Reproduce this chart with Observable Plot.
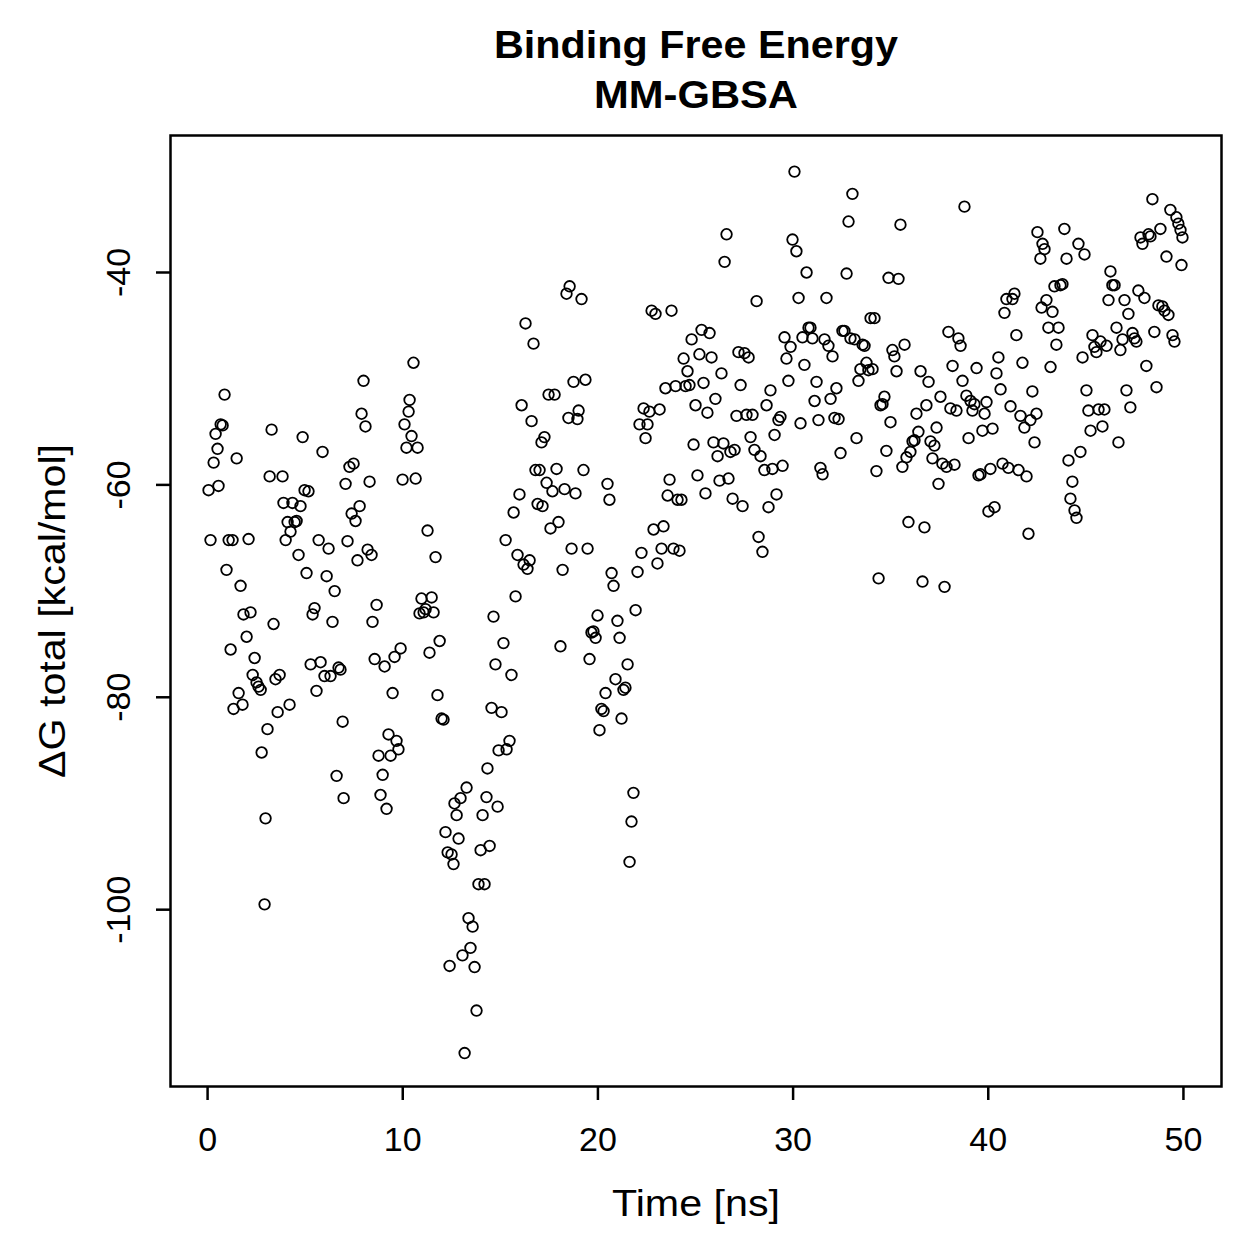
<!DOCTYPE html>
<html><head><meta charset="utf-8">
<script src="https://cdn.jsdelivr.net/npm/d3@7"></script>
<script src="https://cdn.jsdelivr.net/npm/@observablehq/plot@0.6"></script>
<style>body{margin:0;background:#fff}</style>
</head><body><div id="chart"></div>
<script>
const titleLines = ["Binding Free Energy", "MM-GBSA"];
const xLabel = "Time [ns]";
const yLabel = "ΔG total [kcal/mol]";
const xTicks = [0, 10, 20, 30, 40, 50];
const yTicks = [-100, -80, -60, -40];

const time = [
0.05,0.15,0.31,0.41,0.51,0.56,0.67,0.77,0.87,0.97,1.08,1.18,1.28,1.33,1.49,1.59,1.69,1.79,1.84,2.00,
2.10,2.20,2.31,2.41,2.51,2.61,2.72,2.77,2.92,2.97,3.07,3.18,3.28,3.38,3.48,3.59,3.69,3.84,3.89,4.00,
4.10,4.20,4.25,4.35,4.46,4.56,4.66,4.76,4.87,4.97,5.07,5.17,5.28,5.38,5.48,5.58,5.69,5.79,5.89,5.99,
6.10,6.20,6.30,6.40,6.51,6.61,6.71,6.81,6.92,6.97,7.07,7.17,7.27,7.38,7.48,7.58,7.68,7.79,7.89,7.99,
8.09,8.20,8.30,8.40,8.45,8.56,8.66,8.76,8.86,8.97,9.07,9.17,9.27,9.38,9.48,9.58,9.68,9.78,9.89,9.99,
10.09,10.19,10.30,10.35,10.45,10.55,10.66,10.76,10.86,10.96,11.07,11.17,11.27,11.37,11.48,11.58,11.68,11.78,11.89,11.99,
12.09,12.19,12.30,12.40,12.50,12.60,12.65,12.76,12.86,12.96,13.06,13.17,13.27,13.37,13.47,13.58,13.68,13.78,13.88,13.99,
14.09,14.19,14.29,14.34,14.45,14.55,14.65,14.75,14.86,14.91,15.06,15.16,15.27,15.32,15.47,15.57,15.68,15.78,15.88,15.98,
16.09,16.19,16.29,16.39,16.50,16.60,16.70,16.80,16.91,17.01,17.11,17.16,17.26,17.37,17.47,17.57,17.67,17.78,17.88,17.98,
18.08,18.19,18.29,18.39,18.49,18.55,18.65,18.75,18.85,18.95,19.01,19.16,19.26,19.36,19.47,19.57,19.67,19.77,19.88,19.98,
20.08,20.18,20.29,20.39,20.49,20.59,20.70,20.80,20.90,21.00,21.11,21.21,21.31,21.41,21.52,21.62,21.72,21.82,21.93,22.03,
22.13,22.23,22.34,22.44,22.54,22.64,22.75,22.85,22.95,23.05,23.16,23.26,23.36,23.46,23.57,23.67,23.77,23.87,23.98,24.08,
24.18,24.28,24.39,24.49,24.59,24.69,24.80,24.90,25.00,25.10,25.20,25.31,25.41,25.51,25.61,25.72,25.82,25.92,26.02,26.13,
26.23,26.33,26.43,26.49,26.59,26.69,26.79,26.90,27.00,27.10,27.20,27.31,27.41,27.51,27.61,27.72,27.82,27.92,28.02,28.13,
28.23,28.33,28.43,28.53,28.64,28.74,28.84,28.94,29.05,29.15,29.25,29.35,29.46,29.56,29.66,29.76,29.87,29.97,30.07,30.17,
30.28,30.38,30.48,30.58,30.69,30.79,30.89,30.99,31.10,31.20,31.30,31.40,31.51,31.61,31.71,31.81,31.92,32.02,32.12,32.22,
32.33,32.43,32.53,32.63,32.74,32.84,32.94,33.04,33.15,33.25,33.35,33.45,33.56,33.66,33.76,33.86,33.97,34.07,34.17,34.27,
34.38,34.48,34.58,34.68,34.78,34.89,34.99,35.09,35.19,35.30,35.40,35.50,35.60,35.71,35.81,35.91,36.01,36.12,36.22,36.32,
36.42,36.53,36.63,36.73,36.83,36.94,37.04,37.14,37.24,37.35,37.45,37.55,37.65,37.76,37.86,37.96,38.06,38.17,38.27,38.37,
38.47,38.58,38.68,38.78,38.88,38.99,39.09,39.19,39.29,39.40,39.50,39.60,39.70,39.81,39.91,40.01,40.11,40.22,40.32,40.42,
40.52,40.63,40.73,40.83,40.93,41.03,41.14,41.24,41.34,41.44,41.55,41.65,41.75,41.85,41.96,42.06,42.16,42.26,42.37,42.47,
42.52,42.67,42.73,42.78,42.88,42.98,43.08,43.19,43.29,43.39,43.49,43.60,43.70,43.80,43.90,44.01,44.11,44.21,44.31,44.42,
44.52,44.62,44.72,44.83,44.93,45.03,45.13,45.24,45.34,45.44,45.54,45.65,45.75,45.85,45.95,46.06,46.16,46.26,46.36,46.47,
46.57,46.67,46.77,46.88,46.98,47.08,47.18,47.28,47.39,47.49,47.59,47.69,47.80,47.90,48.00,48.10,48.21,48.31,48.41,48.51,
48.62,48.72,48.82,48.92,49.03,49.13,49.23,49.33,49.44,49.54,49.64,49.74,49.85,49.95,49.90
];

const dG = [
-60.5,-65.2,-57.9,-55.2,-56.6,-60.1,-54.3,-54.4,-51.5,-68.0,-65.2,-75.5,-65.2,-81.1,-57.5,-79.6,-69.5,-80.7,-72.2,-74.3,
-65.1,-72.0,-77.9,-76.3,-78.6,-79.0,-79.3,-85.2,-99.5,-91.4,-83.0,-59.2,-54.8,-73.1,-78.3,-81.4,-77.9,-59.2,-61.7,-65.2,
-63.5,-80.7,-64.4,-61.7,-63.5,-63.4,-66.6,-62.0,-55.5,-60.5,-68.3,-60.6,-76.9,-72.2,-71.6,-79.4,-65.2,-76.7,-56.9,-78.0,
-68.6,-66.0,-78.0,-72.9,-70.0,-87.4,-77.2,-77.4,-82.3,-89.5,-59.9,-65.3,-58.3,-62.7,-58.0,-63.4,-67.1,-62.0,-53.3,-50.2,
-54.5,-66.1,-59.7,-66.6,-72.9,-76.4,-71.3,-85.5,-89.2,-87.3,-77.1,-90.5,-83.5,-85.5,-79.6,-76.2,-84.1,-84.9,-75.4,-59.5,
-54.3,-56.5,-53.1,-52.0,-55.4,-48.5,-59.4,-56.5,-72.1,-70.7,-72.0,-71.7,-64.3,-75.8,-70.6,-72.0,-66.8,-79.8,-74.7,-82.0,
-82.1,-92.7,-94.6,-105.3,-94.8,-95.7,-90.0,-91.1,-93.3,-89.5,-104.3,-113.5,-88.5,-100.8,-103.6,-101.6,-105.4,-109.5,-97.6,-94.4,
-91.1,-97.6,-89.4,-86.7,-94.0,-81.0,-72.4,-76.9,-90.3,-85.0,-81.4,-74.9,-65.2,-84.9,-84.1,-77.9,-62.6,-70.5,-66.6,-60.9,
-52.5,-67.5,-44.8,-67.9,-67.1,-54.0,-46.7,-58.6,-61.8,-58.6,-56.0,-62.0,-55.5,-59.8,-51.5,-64.1,-60.6,-51.5,-58.5,-63.5,
-75.2,-68.0,-60.4,-42.0,-53.7,-41.3,-66.0,-50.3,-60.8,-53.8,-53.0,-42.5,-58.6,-50.1,-66.0,-76.4,-73.9,-73.8,-74.4,-72.3,
-83.1,-81.1,-81.3,-79.6,-59.9,-61.4,-68.3,-69.5,-78.3,-72.8,-74.4,-82.0,-79.3,-79.1,-76.9,-95.5,-91.7,-89.0,-71.8,-68.2,
-54.3,-66.4,-52.8,-55.6,-54.3,-53.1,-43.6,-64.2,-43.9,-67.4,-52.9,-66.0,-63.9,-50.9,-61.0,-59.5,-43.6,-66.0,-50.7,-61.4,
-66.2,-61.4,-48.1,-50.7,-49.3,-50.6,-46.3,-56.2,-52.5,-59.1,-47.7,-45.4,-50.4,-60.8,-53.2,-45.7,-48.0,-56.0,-51.9,-57.3,
-59.6,-49.5,-56.1,-39.0,-36.4,-59.4,-56.9,-61.3,-56.7,-53.5,-47.5,-50.6,-62.0,-47.6,-53.4,-48.0,-55.5,-53.4,-56.7,-42.7,
-64.9,-57.3,-66.3,-58.6,-52.5,-62.1,-51.1,-58.5,-55.3,-60.9,-53.9,-53.6,-58.2,-46.1,-48.1,-50.2,-47.0,-36.9,-30.5,-38.0,
-42.4,-54.2,-46.1,-48.7,-40.0,-45.2,-45.2,-46.2,-52.1,-50.3,-53.9,-58.4,-59.0,-46.3,-42.4,-46.9,-51.9,-47.9,-53.7,-50.9,
-53.8,-57.0,-45.5,-45.5,-40.1,-35.2,-46.2,-32.6,-46.3,-55.6,-50.2,-49.1,-46.8,-46.9,-48.5,-49.2,-44.3,-49.1,-44.3,-58.7,
-68.8,-52.5,-52.4,-51.7,-56.8,-40.5,-54.1,-47.3,-47.9,-49.3,-40.6,-35.5,-58.3,-46.8,-57.4,-63.5,-56.9,-55.9,-55.8,-53.3,
-55.0,-49.3,-69.1,-64.0,-52.5,-50.3,-55.9,-57.5,-56.3,-54.6,-59.9,-51.7,-58.0,-69.6,-58.3,-45.6,-52.8,-48.8,-58.1,-53.0,
-46.2,-46.9,-50.2,-33.8,-51.6,-55.6,-52.1,-53.0,-52.4,-49.0,-59.1,-59.0,-54.9,-53.3,-52.2,-62.5,-58.5,-54.7,-62.1,-49.5,
-48.0,-51.0,-58.0,-43.8,-42.5,-58.4,-52.6,-42.5,-42.0,-45.9,-58.6,-53.5,-48.5,-54.6,-59.2,-64.6,-53.9,-51.2,-56.0,-53.3,
-36.2,-38.7,-43.3,-37.3,-37.8,-42.6,-45.2,-48.9,-43.7,-41.3,-46.8,-45.2,-41.2,-41.1,-35.9,-38.7,-57.7,-61.3,-59.7,-62.4,
-63.1,-37.3,-56.9,-48.0,-38.3,-51.1,-53.0,-54.9,-45.9,-47.0,-47.5,-52.9,-46.5,-54.5,-52.9,-46.9,-42.6,-39.9,-41.2,-41.2,
-45.2,-56.0,-47.3,-46.3,-42.6,-51.1,-43.9,-52.7,-45.7,-46.2,-46.5,-41.7,-36.7,-37.3,-42.4,-48.8,-36.4,-36.6,-33.1,-45.6,
-50.8,-43.1,-35.9,-43.2,-43.6,-38.5,-44.0,-34.1,-45.9,-46.5,-34.8,-35.4,-36.0,-36.7,-39.3
];

const data = time.map((t, i) => ({t, g: dG[i]}));
const font = "'Liberation Sans', Arial, Helvetica, sans-serif";

const chart = Plot.plot({
  width: 1259, height: 1259,
  marginLeft: 170, marginRight: 38, marginTop: 135, marginBottom: 173,
  style: {fontFamily: font, background: "#fff", color: "#000", overflow: "visible"},
  x: {domain: [-1.9, 51.95]},
  y: {domain: [-116.65, -27.1]},
  marks: [
    Plot.axisX({ticks: xTicks, tickSize: 14, tickPadding: 26, fontSize: 34, label: null, tickFormat: d => String(d), strokeWidth: 2.5}),
    Plot.axisY({ticks: yTicks, tickSize: 14, tickFormat: () => "", label: null, strokeWidth: 2.5}),
    Plot.text(yTicks, {y: d => d, text: d => String(d), frameAnchor: "left", dx: -51, rotate: -90, textAnchor: "middle", lineAnchor: "middle", fontSize: 34}),
    Plot.dot(data, {x: "t", y: "g", r: 5.3, stroke: "#000", strokeWidth: 1.8, fill: "none"}),
    Plot.frame({stroke: "#000", strokeWidth: 2.5}),
    Plot.text([xLabel], {text: d => d, frameAnchor: "bottom", dy: 129, lineAnchor: "bottom", textAnchor: "middle", fontSize: 37}),
    Plot.text([yLabel], {text: d => d, frameAnchor: "left", dx: -117, rotate: -90, textAnchor: "middle", lineAnchor: "middle", fontSize: 37}),
    Plot.text([titleLines[0]], {text: d => d, frameAnchor: "top", dy: -78, lineAnchor: "bottom", textAnchor: "middle", fontSize: 38, fontWeight: "bold"}),
    Plot.text([titleLines[1]], {text: d => d, frameAnchor: "top", dy: -28, lineAnchor: "bottom", textAnchor: "middle", fontSize: 38, fontWeight: "bold"})
  ]
});

// widen the label texts to the extents they have in the reference
const textWidths = new Map([[titleLines[0], 404], [titleLines[1], 204], [xLabel, 168], [yLabel, 334]]);
d3.select(chart).selectAll("text").each(function() {
  const w = textWidths.get(this.textContent);
  if (w) { this.setAttribute("textLength", w); this.setAttribute("lengthAdjust", "spacingAndGlyphs"); }
});
document.getElementById("chart").appendChild(chart);
</script>
</body></html>
